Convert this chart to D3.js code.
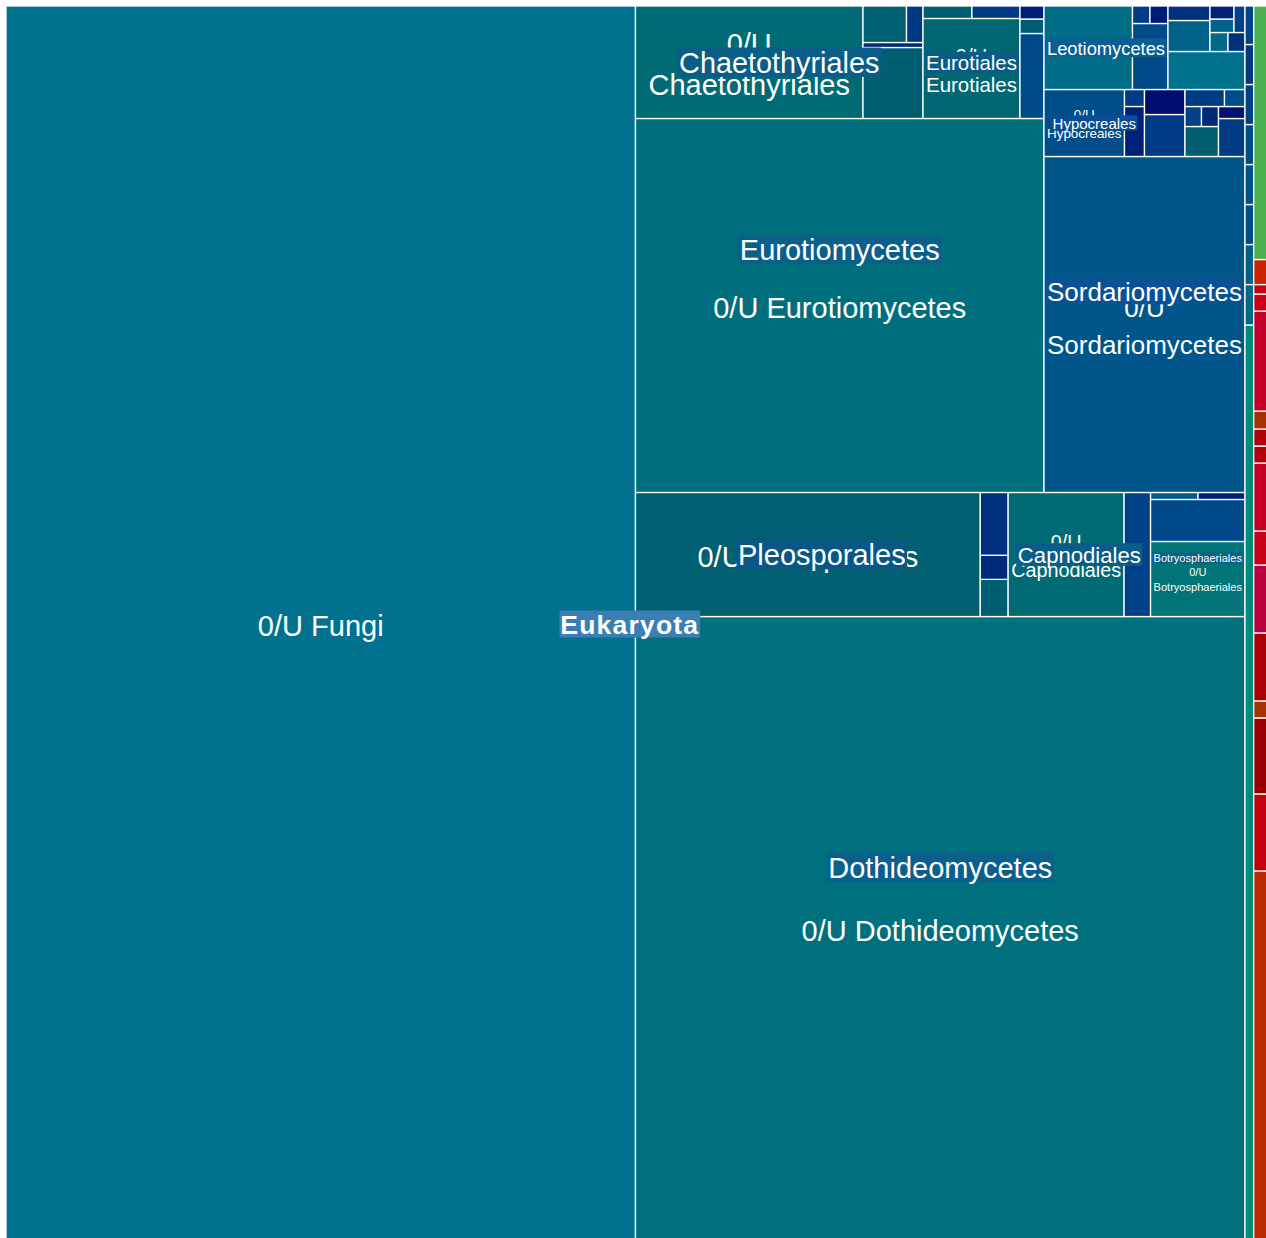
<!DOCTYPE html>
<html>
<head>
<meta charset="utf-8">
<script src="https://cdn.jsdelivr.net/npm/d3@7"></script>
<style>
  body { margin: 0; background: #fff; overflow: hidden; }
  svg { display: block; }
  text { font-family: "Liberation Sans", Arial, sans-serif; fill: #fff; }
</style>
</head>
<body>
<script>
// Each entry is [label, value, colour score] for a leaf, or [label, children] for a group.
// A blank label is a taxon whose name is not printed on the chart.

var pleosporales = [["0/U Pleosporales", 42780, 0.89], ["", 1036, 0.9], ["", 672, 0.2], ["", 1750, 0.24]];
var capnodiales = [["0/U Capnodiales", 14384, 0.84], ["", 3286, 0.36]];
var botryosphaeriales = [["0/U Botryosphaeriales", 7088, 0.95], ["", 3969, 0.42]];
var dothideomycetes = [
    ["0/U Dothideomycetes", 381242, 0.78],
    ["Pleosporales", pleosporales],
    ["Capnodiales", capnodiales],
    ["Botryosphaeriales", botryosphaeriales],
    ["", 332, 0.52],
    ["", 329, 0.14]
];

var chaetothyriales = [
    ["0/U Chaetothyriales", 25594, 0.84],
    ["", [["", 4260, 0.9], ["", 300, 0.2]]],
    ["", 1588, 0.89],
    ["", 602, 0.3]
];
var eurotiales = [["0/U Eurotiales", 9700, 0.86], ["", 610, 0.9], ["", 600, 0.32]];
var eurotioOther = [["", 2040, 0.42], ["", 348, 0.9], ["", 312, 0.12]];
var eurotiomycetes = [
    ["0/U Eurotiomycetes", 152779, 0.79],
    ["Chaetothyriales", chaetothyriales],
    ["Eurotiales", eurotiales],
    ["", eurotioOther]
];

var hypocreales = [["0/U Hypocreales", 5394, 0.45], ["", 1000, 0.14], ["", 340, 0.32]];
var sordariomycetes = [
    ["0/U Sordariomycetes", 67536, 0.5],
    ["Hypocreales", hypocreales],
    ["", [["", 1701, 0.32], ["", 1013, 0.01]]],
    ["", [["", 1005, 0.9], ["", 330, 0.36], ["", 340, 0.2]]],
    ["", [["", 1007, 0.32], ["", 318, 0.03]]],
    ["", 672, 0.32],
    ["", 349, 0.45]
];

var leotiomycetes = [["", 7390, 0.62], ["", 2343, 0.42], ["", 306, 0.32], ["", 315, 0.1]];

var fungi = [
    ["0/U Fungi", 778062, 0.7],
    ["Dothideomycetes", dothideomycetes],
    ["Eurotiomycetes", eurotiomycetes],
    ["Sordariomycetes", sordariomycetes],
    ["Leotiomycetes", leotiomycetes],
    ["", 2926, 0.68],
    ["", [["", 1302, 0.56], ["", 609, 0.24]]],
    ["", [["", 342, 0.6], ["", 323, 0.25]]],
    ["", [["", 324, 0.56], ["", 312, 0.15]]],
    ["", 292, 0.36]
];

var otherEukaryotes = [
    ["", 7977, 1], ["", 352, 0.6], ["", 348, 0.55], ["", 348, 0.45], ["", 348, 0.48],
    ["", 348, 0.44], ["", 348, 0.36], ["", 348, 0.3], ["", 335, 0.38]
];

var redGroup = [
    ["", 5306, 0.9], ["", 1101, 0.35], ["", 1087, 0.55], ["", 243, 0.8], ["", 972, 0.47],
    ["", 972, 0], ["", 486, 0.25], ["", 972, 0.17], ["", 243, 0.42], ["", 243, 0.43],
    ["", 257, 0.8], ["", 1430, 0.15], ["", 243, 0.3], ["", 136, 0.32], ["", 358, 1]
];
var greenGroup = [["", 3625, 1]];

var domains = [
    ["Eukaryota", [["", fungi], ["", otherEukaryotes]]],
    ["", redGroup],
    ["", greenGroup]
];

// one colour ramp per top level group, same order as domains
var palettes = [
    d3.scaleLinear()
        .domain([0, 0.2, 0.35, 0.5, 0.62, 0.7, 0.78, 0.84, 0.9, 1])
        .range(["#000c70", "#002a7a", "#003f88", "#00568a", "#006d88", "#00728f", "#00707f", "#006b74", "#005e72", "#008a7a"]),
    d3.scaleLinear()
        .domain([0, 0.3, 0.55, 0.8, 1])
        .range(["#b8003c", "#cc0012", "#980000", "#a83000", "#cc2200"]),
    d3.scaleLinear().domain([0, 1]).range(["#3d9a42", "#4caf50"])
];

var width = 1266, height = 1238;
var ox = 6, oy = 6, tw = 1262, th = 1236;
var maxFont = 29, minFont = 8, topFont = 26.5;

var svg = d3.select("body").append("svg")
    .attr("width", width)
    .attr("height", height);

function toNode(entry) {
    if (Array.isArray(entry[1])) {
        return {name: entry[0], children: entry[1].map(toNode)};
    }
    return {name: entry[0], value: entry[1], score: entry[2]};
}

var root = d3.hierarchy({name: "", children: domains.map(toNode)})
    .sum(function(d) { return d.value || 0; });

d3.treemap()
    .tile(d3.treemapSquarify.ratio(1))
    .size([tw, th])(root);

// squarify stacks rows from the top, this chart stacks them from the bottom
root.each(function(d) {
    var y0 = d.y0;
    d.x0 += ox;
    d.x1 += ox;
    d.y0 = oy + th - d.y1;
    d.y1 = oy + th - y0;
});

function colourOf(leaf) {
    var top = leaf.ancestors().find(function(a) { return a.depth === 1; });
    return palettes[root.children.indexOf(top)](leaf.data.score);
}

var leaves = root.leaves();

svg.append("g").selectAll("rect")
    .data(leaves)
    .join("rect")
    .attr("x", function(d) { return d.x0; })
    .attr("y", function(d) { return d.y0; })
    .attr("width", function(d) { return d.x1 - d.x0; })
    .attr("height", function(d) { return d.y1 - d.y0; })
    .attr("fill", colourOf)
    .attr("stroke", "#fff")
    .attr("stroke-width", 1.3);

var ctx = document.createElement("canvas").getContext("2d");
function emWidth(str, weight) {
    ctx.font = (weight || "normal") + " 100px 'Liberation Sans', Arial, sans-serif";
    return ctx.measureText(str).width / 100;
}

// leaf labels: one line, or "0/U" over the taxon when that reads bigger
var leafLabels = svg.append("g");
leaves.filter(function(d) { return d.data.name; }).forEach(function(d) {
    var w = d.x1 - d.x0, h = d.y1 - d.y0;
    var cx = (d.x0 + d.x1) / 2, cy = (d.y0 + d.y1) / 2;
    var name = d.data.name;
    var parts = name.split(" ");
    var split = [parts[0], parts.slice(1).join(" ")];

    var one = Math.min(maxFont, (w - 6) / emWidth(name), h / 1.4);
    var two = Math.min(maxFont, (w - 6) / d3.max(split, function(s) { return emWidth(s); }), h / 2.8);
    var fs = one >= two ? one : two;
    var rows = one >= two ? [name] : split;
    if (fs < minFont) return;
    d.labelSize = fs;

    var t = leafLabels.append("text")
        .attr("text-anchor", "middle")
        .attr("font-size", fs);
    rows.forEach(function(r, i) {
        t.append("tspan")
            .attr("x", cx)
            .attr("y", cy + 0.42 * fs + (i - (rows.length - 1) / 2) * 1.41 * fs)
            .text(r);
    });
});

// group labels sit on a tinted box, outer groups drawn last
var groups = root.descendants()
    .filter(function(d) { return d.children && d.depth > 0 && d.data.name; })
    .sort(function(a, b) { return b.depth - a.depth; });

var groupLabels = svg.append("g");
groups.forEach(function(d) {
    var w = d.x1 - d.x0, h = d.y1 - d.y0;
    var cx = (d.x0 + d.x1) / 2, cy = (d.y0 + d.y1) / 2;
    var isTop = d.depth === 1;
    var weight = isTop ? "bold" : "normal";
    var spacing = isTop ? 1.2 : 0;
    var em = emWidth(d.data.name, weight);
    var fs = isTop ? topFont : Math.min(maxFont, (w - 6) / em, h / 3.9);
    // keep a group label close to the size of its own 0/U label
    var own = d.children[0].labelSize;
    if (!isTop && own) fs = Math.min(fs, own * 1.12);
    if (fs < minFont) return;

    var textW = em * fs + spacing * (d.data.name.length - 1);
    var base = colourOf(d.leaves()[0]);
    var box = isTop ? d3.interpolateRgb(base, "#4480bb")(0.85) : d3.interpolateRgb(base, "#164c9c")(0.45);

    groupLabels.append("rect")
        .attr("x", cx - textW / 2 - 1.5)
        .attr("y", cy - 0.51 * fs)
        .attr("width", textW + 3)
        .attr("height", 1.02 * fs)
        .attr("fill", box);

    groupLabels.append("text")
        .attr("x", cx)
        .attr("y", cy + 0.37 * fs)
        .attr("text-anchor", "middle")
        .attr("font-size", fs)
        .attr("font-weight", weight)
        .attr("letter-spacing", spacing)
        .text(d.data.name);
});
</script>
</body>
</html>
